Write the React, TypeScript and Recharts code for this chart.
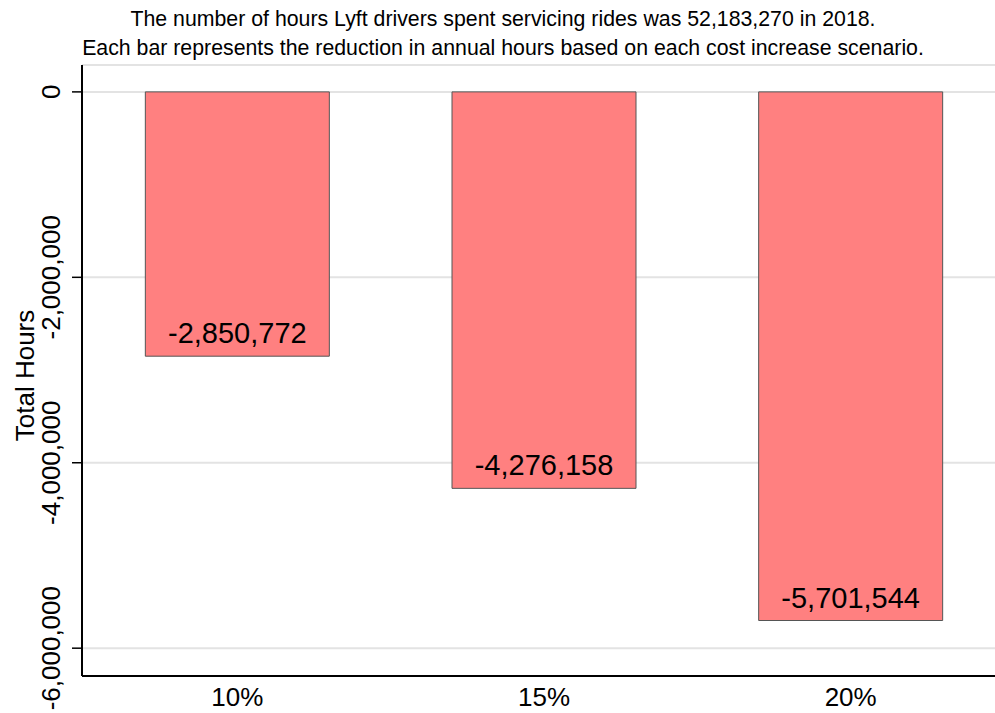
import React from "react";
import { BarChart, Bar, XAxis, YAxis, CartesianGrid, LabelList } from "recharts";

const categories = ["10%", "15%", "20%"];
const hoursReduction = [-2850772, -4276158, -5701544];
const yTicks = [0, -2000000, -4000000, -6000000];
const titleLines = [
  "The number of hours Lyft drivers spent servicing rides was 52,183,270 in 2018.",
  "Each bar represents the reduction in annual hours based on each cost increase scenario.",
];

const data = categories.map((c, i) => ({ cat: c, value: hoursReduction[i] }));
const fmt = (v: number) => v.toLocaleString("en-US");
const FONT = "'Liberation Sans', Arial, Helvetica, sans-serif";

const YTick = (props: any) => {
  const { x, y, payload } = props;
  return (
    <text
      x={x}
      y={y}
      transform={`rotate(-90, ${x}, ${y})`}
      textAnchor="middle"
      fontSize={26}
      fontFamily={FONT}
      fill="#000"
    >
      {fmt(payload.value)}
    </text>
  );
};

const XTick = (props: any) => {
  const { x, y, payload } = props;
  return (
    <text x={x} y={y + 30} textAnchor="middle" fontSize={26} fontFamily={FONT} fill="#000">
      {payload.value}
    </text>
  );
};

const BarLabel = (props: any) => {
  const { x, y, width, height, value } = props;
  const bottom = Math.max(y, y + height);
  return (
    <text
      x={x + width / 2}
      y={bottom - 13}
      textAnchor="middle"
      fontSize={29}
      fontFamily={FONT}
      fill="#000"
    >
      {fmt(value)}
    </text>
  );
};

export default function App() {
  return (
    <div
      style={{
        position: "absolute",
        left: 0,
        top: 0,
        width: 995,
        height: 713,
        overflow: "hidden",
        background: "#fff",
      }}
    >
      {titleLines.map((t, i) => (
        <div
          key={i}
          style={{
            position: "absolute",
            left: 0,
            width: 1006,
            top: 7 + i * 29,
            textAlign: "center",
            fontFamily: "'Liberation Sans Narrow', 'Arial Narrow', " + FONT,
            fontSize: 21.3,
            lineHeight: "24px",
            color: "#000",
            whiteSpace: "nowrap",
          }}
        >
          {t}
        </div>
      ))}
      <div style={{ position: "absolute", left: 0, top: 0 }}>
        <BarChart
          width={1004}
          height={713}
          data={data}
          margin={{ top: 65, right: 0, bottom: 0, left: 0 }}
          barCategoryGap="20%"
        >
          <CartesianGrid horizontal vertical={false} stroke="#e3e3e3" strokeWidth={2} />
          <XAxis
            dataKey="cat"
            height={37}
            tickLine={false}
            tickSize={0}
            tickMargin={0}
            axisLine={{ stroke: "#000", strokeWidth: 2 }}
            tick={<XTick />}
            padding={{ left: 2, right: 0 }}
          />
          <XAxis
            xAxisId="top"
            dataKey="cat"
            orientation="top"
            height={0}
            tick={false}
            tickLine={false}
            axisLine={{ stroke: "#000", strokeWidth: 2 }}
          />
          <YAxis
            type="number"
            width={82}
            domain={[-6300000, 290000]}
            ticks={yTicks}
            interval={0}
            tickSize={10}
            tickMargin={12}
            tickLine={{ stroke: "#000", strokeWidth: 1.5 }}
            axisLine={{ stroke: "#000", strokeWidth: 2 }}
            tick={<YTick />}
            allowDataOverflow
            label={{
              value: "Total Hours",
              angle: -90,
              position: "insideLeft",
              dx: 0,
              content: (p: any) => {
                const vb = p.viewBox;
                const cx = 34;
                const cy = vb.y + vb.height / 2 + 5;
                return (
                  <text
                    x={cx}
                    y={cy}
                    transform={`rotate(-90, ${cx}, ${cy})`}
                    textAnchor="middle"
                    fontSize={26}
                    fontFamily={FONT}
                    fill="#000"
                  >
                    Total Hours
                  </text>
                );
              },
            }}
          />
          <Bar dataKey="value" fill="#ff8080" stroke="#555" strokeWidth={1} isAnimationActive={false}>
            <LabelList dataKey="value" content={<BarLabel />} />
          </Bar>
        </BarChart>
      </div>
    </div>
  );
}
